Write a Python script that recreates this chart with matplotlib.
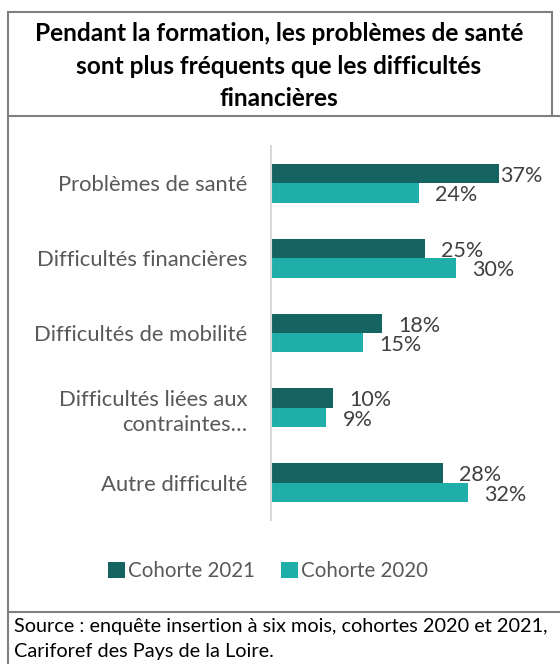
import matplotlib
matplotlib.use("Agg")
import matplotlib.pyplot as plt
from matplotlib.lines import Line2D
import numpy as np

categories = [
    "Problèmes de santé",
    "Difficultés financières",
    "Difficultés de mobilité",
    "Difficultés liées aux\ncontraintes…",
    "Autre difficulté",
]
cohorte_2021 = [37, 25, 18, 10, 28]
cohorte_2020 = [24, 30, 15, 9, 32]
series_names = ["Cohorte 2021", "Cohorte 2020"]

title = "Pendant la formation, les problèmes de santé\nsont plus fréquents que les difficultés\nfinancières"
source = "Source : enquête insertion à six mois, cohortes 2020 et 2021,\nCariforef des Pays de la Loire."

DARK = "#156462"
LIGHT = "#20AFA8"
TEXT = "#404040"
FRAME = "#7f7f7f"

W, H = 560, 664
plt.rcParams["font.family"] = ["Lato", "DejaVu Sans"]

fig = plt.figure(figsize=(W / 100, H / 100), dpi=100)


def px(x, y):
    return x / W, 1 - y / H


def hline(y, x0, x1):
    (a, b), (c, d) = px(x0, y), px(x1, y)
    fig.add_artist(Line2D([a, c], [b, d], color=FRAME, lw=1.5))


def vline(x, y0, y1):
    (a, b), (c, d) = px(x, y0), px(x, y1)
    fig.add_artist(Line2D([a, c], [b, d], color=FRAME, lw=1.5))


# frame
vline(8, 12, 664)
hline(12, 8, 552)
vline(552, 12, 116)
hline(116, 8, 560)
hline(612, 8, 560)

# title
fig.text(*px(279, 66), title, ha="center", va="center", fontsize=17.6,
         fontweight="bold", color="black", linespacing=1.5)

# chart
left, top, right, bottom = 271, 146, 548, 520
ax = fig.add_axes([left / W, 1 - bottom / H, (right - left) / W, (bottom - top) / H])
y = np.arange(len(categories))
h = 0.26
ax.barh(y - h / 2, cohorte_2021, height=h, color=DARK, label=series_names[0])
ax.barh(y + h / 2, cohorte_2020, height=h, color=LIGHT, label=series_names[1])
ax.set_xlim(0, 45)
ax.set_ylim(len(categories) - 0.5, -0.5)

pad_2021 = [0.2, 2.6, 2.6, 2.8, 2.6]
pad_2020 = [2.6, 2.6, 2.6, 2.6, 2.6]
for i in range(len(categories)):
    ax.text(cohorte_2021[i] + pad_2021[i], y[i] - h / 2 + 0.03, f"{cohorte_2021[i]}%",
            va="center", ha="left", fontsize=15.5, color=TEXT)
    ax.text(cohorte_2020[i] + pad_2020[i], y[i] + h / 2 + 0.03, f"{cohorte_2020[i]}%",
            va="center", ha="left", fontsize=15.5, color=TEXT)

ax.set_yticks(y)
ax.set_yticklabels(categories, fontsize=15.8, color="#595959", ha="right",
                   linespacing=1.3)
ax.tick_params(axis="y", length=0, pad=17)
ax.set_xticks([])
for s in ["top", "right", "bottom"]:
    ax.spines[s].set_visible(False)
ax.spines["left"].set_color("#d9d9d9")
ax.spines["left"].set_linewidth(1.5)

fig.legend(loc="center", bbox_to_anchor=px(268, 571), ncol=2, frameon=False,
           fontsize=14.8, labelcolor="#595959", handlelength=0.8, handleheight=0.8,
           handletextpad=0.15, columnspacing=1.3)

fig.text(*px(14, 639), source, ha="left", va="center", fontsize=14.3,
         color="black", linespacing=1.55)

fig.savefig("out.png", dpi=100)
